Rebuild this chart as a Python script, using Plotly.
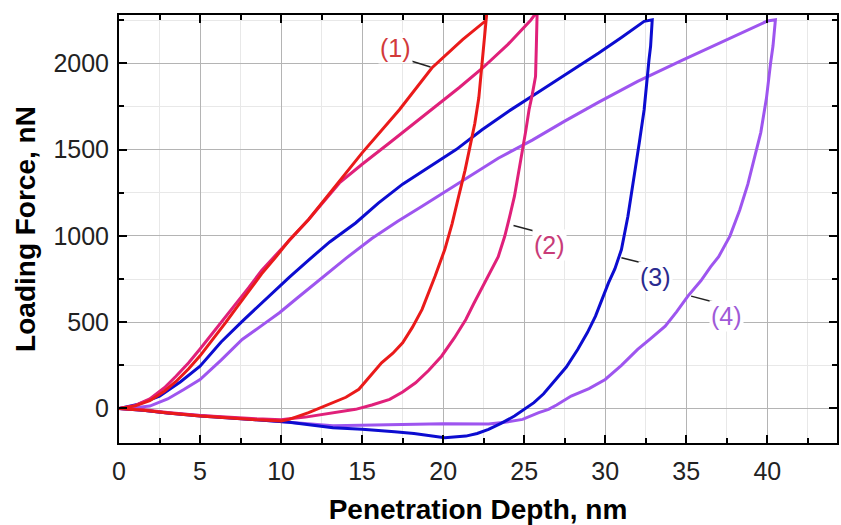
import plotly.graph_objects as go

# Load–unload indentation curves (penetration depth in nm, force in nN)
# Each curve: loading branch, unloading branch, then the adhesion tail back to zero.

s1_depth = [0, 1.0, 1.9, 2.8, 3.5, 4.3, 5.0, 5.8, 6.6, 7.3, 8.0, 8.8, 9.7, 10.5, 11.7,
            13.2, 15.0, 17.3, 19.3, 21.2, 22.2, 22.6, 22.7,
            22.55, 22.4, 22.2, 21.95, 21.7, 21.35, 20.96, 20.55, 20.1, 19.5, 18.7, 18.1,
            17.5, 16.9, 16.2, 15.5, 14.8, 14.0, 13.2, 12.4, 11.7, 10.5,
            10.0, 8.5, 7.0, 5.0, 3.0, 1.5, 0]
s1_force = [0, 15, 45, 100, 155, 230, 305, 400, 500, 590, 680, 780, 880, 975, 1095,
            1268, 1481, 1731, 1973, 2137, 2214, 2245, 2300,
            2150, 2000, 1800, 1650, 1539, 1380, 1230, 1070, 921, 766, 574, 470,
            381, 320, 265, 185, 111, 65, 34, 5, -24, -63,
            -72, -66, -56, -44, -26, -10, 0]

s2_depth = [0, 1.0, 1.9, 2.8, 3.5, 4.3, 5.0, 5.8, 6.6, 7.3, 8.0, 8.8, 9.7, 10.5, 11.7,
            13.6, 15.0, 16.7, 18.2, 19.7, 21.0, 22.4, 24.0, 25.4, 25.8,
            25.75, 25.7, 25.5, 25.3, 25.1, 24.9, 24.65, 24.4, 24.1, 23.8, 23.4, 22.9,
            22.4, 21.9, 21.4, 20.7, 19.9, 19.1, 18.3, 17.5, 16.7, 15.6, 14.6, 13.6,
            12.6, 11.5, 10.5,
            10.0, 8.5, 7.0, 5.0, 3.0, 1.5, 0]
s2_force = [0, 18, 55, 120, 185, 265, 345, 440, 530, 615, 700, 800, 890, 975, 1095,
            1307, 1415, 1540, 1650, 1760, 1860, 1970, 2110, 2250, 2300,
            2100, 1924, 1820, 1731, 1610, 1500, 1360, 1230, 1110, 998, 880, 790,
            708, 610, 516, 410, 303, 220, 149, 95, 53, 20, -5, -20,
            -34, -50, -60,
            -65, -60, -52, -40, -23, -8, 0]

s3_depth = [0, 1.2, 2.5, 3.8, 5.0, 6.3, 7.6, 8.8, 9.9, 10.5, 11.7, 13.0, 14.6, 16.0,
            17.5, 19.2, 20.8, 22.4, 24.0, 26.1, 27.8, 29.6, 31.0, 32.4, 32.9,
            32.8, 32.7, 32.55, 32.4, 32.1, 31.8, 31.4, 31.0, 30.6, 30.2, 29.8, 29.4,
            28.9, 28.3, 27.6, 26.8, 26.2, 25.6, 25.0, 24.4, 23.6, 22.8, 22.1, 21.4,
            20.1, 19.3, 18.2, 17.0, 15.0, 13.2, 11.8, 10.5,
            8.5, 7.0, 5.0, 3.0, 1.5, 0]
s3_force = [0, 25, 72, 155, 245, 385, 505, 612, 705, 760, 860, 965, 1075, 1190,
            1300, 1405, 1500, 1615, 1720, 1847, 1950, 2060, 2150, 2243, 2252,
            2100, 2021, 1870, 1731, 1539, 1345, 1114, 921, 810, 728, 630, 535,
            440, 342, 240, 149, 85, 34, -5, -44, -85, -121, -145, -160,
            -170, -160, -145, -135, -120, -111, -95, -80,
            -66, -56, -44, -26, -10, 0]

s4_depth = [0, 1.0, 1.9, 3.0, 4.0, 5.0, 6.3, 7.6, 8.8, 9.9, 11.0, 12.4, 14.0, 15.6,
            17.2, 18.7, 20.2, 21.6, 23.4, 25.5, 27.5, 29.6, 32.0, 34.7, 37.5, 40.0, 40.5,
            40.35, 40.2, 39.95, 39.6, 39.2, 38.8, 38.3, 37.7, 37.0, 36.5, 35.9, 35.1,
            34.4, 33.7, 32.8, 32.0, 31.0, 30.0, 29.0, 27.9, 27.0, 26.5, 25.9, 24.9,
            23.8, 22.8, 20.0, 17.0, 15.0, 13.2, 10.5,
            8.5, 7.0, 5.0, 3.0, 1.5, 0]
s4_force = [0, 5, 14, 55, 110, 168, 280, 400, 480, 555, 640, 750, 870, 985,
            1085, 1172, 1260, 1345, 1450, 1555, 1665, 1775, 1895, 2015, 2135, 2245, 2252,
            2100, 2000, 1800, 1600, 1450, 1300, 1150, 1000, 880, 821, 740, 651,
            560, 477, 405, 342, 250, 168, 115, 72, 20, -5, -24, -63,
            -80, -90, -88, -92, -95, -100, -80,
            -66, -56, -44, -26, -10, 0]

curve_names = ["(1)", "(2)", "(3)", "(4)"]
line_colors = ["#ea1a1a", "#e0207a", "#0c0cd0", "#9e55ef"]
label_colors = ["#d23a3a", "#c83c78", "#2b2b8f", "#a05ad8"]

# label centre and leader line (from curve to label), in data units
label_pos = [(17.06, 2088), (26.54, 950), (33.1, 762), (37.5, 535)]
leader_from = [(19.22, 1979), (24.34, 1060), (31.0, 873), (35.3, 651)]
leader_to = [(17.78, 2021), (25.67, 1027), (32.43, 840), (36.74, 616)]

x_ticks = [0, 5, 10, 15, 20, 25, 30, 35, 40]
y_ticks = [0, 500, 1000, 1500, 2000]

series = [(s1_depth, s1_force), (s2_depth, s2_force),
          (s3_depth, s3_force), (s4_depth, s4_force)]

fig = go.Figure()
# stacking order: purple at the back, red on top
for i in [3, 2, 1, 0]:
    xs, ys = series[i]
    fig.add_trace(go.Scatter(x=xs, y=ys, mode="lines", name=curve_names[i],
                             line=dict(color=line_colors[i], width=3),
                             showlegend=False))

for (lx, ly), (fx, fy), (tx, ty), name, col in zip(label_pos, leader_from, leader_to,
                                                  curve_names, label_colors):
    fig.add_shape(type="line", x0=fx, y0=fy, x1=tx, y1=ty,
                  line=dict(color="#222222", width=1.5))
    fig.add_annotation(x=lx, y=ly, text=name, showarrow=False,
                       font=dict(family="Liberation Sans, Arial", size=25, color=col),
                       bgcolor="white", borderpad=1)

axis_common = dict(
    showline=True, linecolor="black", linewidth=2, mirror="allticks",
    ticks="inside", ticklen=8, tickwidth=1.5, tickcolor="black",
    showgrid=True, gridcolor="#b4b4b4", gridwidth=1, zeroline=False,
    tickfont=dict(family="Liberation Sans, Arial", size=25, color="#222222"),
)

fig.update_xaxes(
    range=[0, 44.3], tickvals=x_ticks,
    minor=dict(dtick=2.5, ticks="inside", ticklen=5, tickcolor="black",
               showgrid=True, gridcolor="#e8e8e8", gridwidth=1),
    title=dict(text="<b>Penetration Depth, nm</b>", standoff=16,
               font=dict(family="Liberation Sans, Arial", size=28, color="black")),
    ticklabelstandoff=5,
    **axis_common,
)
fig.update_yaxes(
    range=[-200, 2280], tickvals=y_ticks,
    minor=dict(dtick=250, ticks="inside", ticklen=5, tickcolor="black",
               showgrid=True, gridcolor="#e8e8e8", gridwidth=1),
    title=dict(text="<b>Loading Force, nN</b>", standoff=10,
               font=dict(family="Liberation Sans, Arial", size=28, color="black")),
    ticklabelstandoff=3,
    **axis_common,
)

fig.update_layout(
    width=841, height=525,
    margin=dict(l=119, r=2, t=15, b=82),
    paper_bgcolor="white", plot_bgcolor="white",
)

fig.write_html("out.html")
